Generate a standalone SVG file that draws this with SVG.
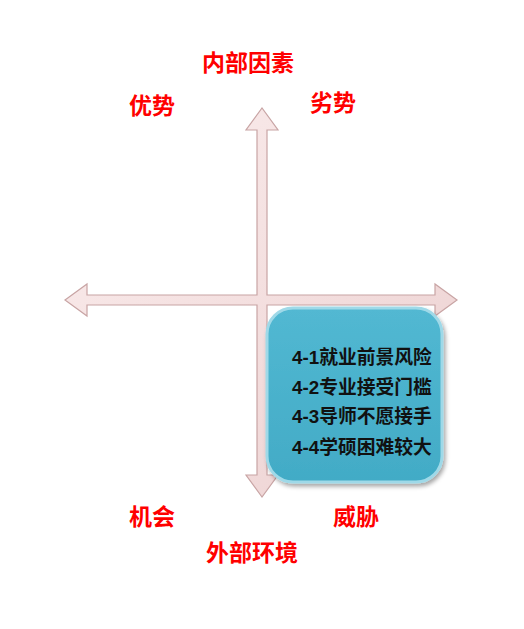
<svg xmlns="http://www.w3.org/2000/svg" width="524" height="629" viewBox="0 0 524 629">
<defs>
<style>
.lbl{font-family:"Liberation Sans","Noto Sans CJK SC",sans-serif;font-weight:bold;font-size:23px;fill:#ff0000;text-anchor:middle;dominant-baseline:central}
.item{font-family:"Liberation Sans","Noto Sans CJK SC",sans-serif;font-weight:bold;font-size:18.8px;fill:#111}
.arrow{fill:url(#ag);stroke:#c8a4a4;stroke-width:1.2;stroke-linejoin:miter}
</style>
<linearGradient id="ag" x1="0" y1="0" x2="1" y2="1">
<stop offset="0" stop-color="#fbeeee"/>
<stop offset="1" stop-color="#ecd0d0"/>
</linearGradient>
<linearGradient id="bg" x1="0" y1="0" x2="0" y2="1">
<stop offset="0" stop-color="#52b8d2"/>
<stop offset="1" stop-color="#42abc6"/>
</linearGradient>
<filter id="sh" x="-10%" y="-10%" width="125%" height="125%">
<feDropShadow dx="2" dy="3" stdDeviation="2" flood-color="#000" flood-opacity="0.35"/>
</filter>
</defs>
<rect width="524" height="629" fill="#ffffff"/>
<g id="connectors">
<path class="arrow" d="M65,300 L87,284 L87,295 L257,295 L257,130 L246,130 L262,108 L278,130 L267,130 L267,295 L435,295 L435,284 L457,300 L435,316 L435,305 L267,305 L267,475 L278,475 L262,497 L246,475 L257,475 L257,305 L87,305 L87,316 Z"/>
</g>
<g id="box">
<rect x="267" y="308" width="175" height="174" rx="26" ry="26" fill="url(#bg)" stroke="#9fd9e8" stroke-width="3" filter="url(#sh)"/>
<text class="item" x="292" y="364">4-1就业前景风险</text>
<text class="item" x="292" y="394">4-2专业接受门槛</text>
<text class="item" x="292" y="423">4-3导师不愿接手</text>
<text class="item" x="292" y="454">4-4学硕困难较大</text>
</g>
<g id="internal"><text class="lbl" x="248" y="63">内部因素</text></g>
<g id="strength"><text class="lbl" x="152" y="106">优势</text></g>
<g id="weakness"><text class="lbl" x="333" y="103">劣势</text></g>
<g id="opportunity"><text class="lbl" x="152" y="517">机会</text></g>
<g id="threat"><text class="lbl" x="356" y="517">威胁</text></g>
<g id="external"><text class="lbl" x="252" y="553">外部环境</text></g>
</svg>
